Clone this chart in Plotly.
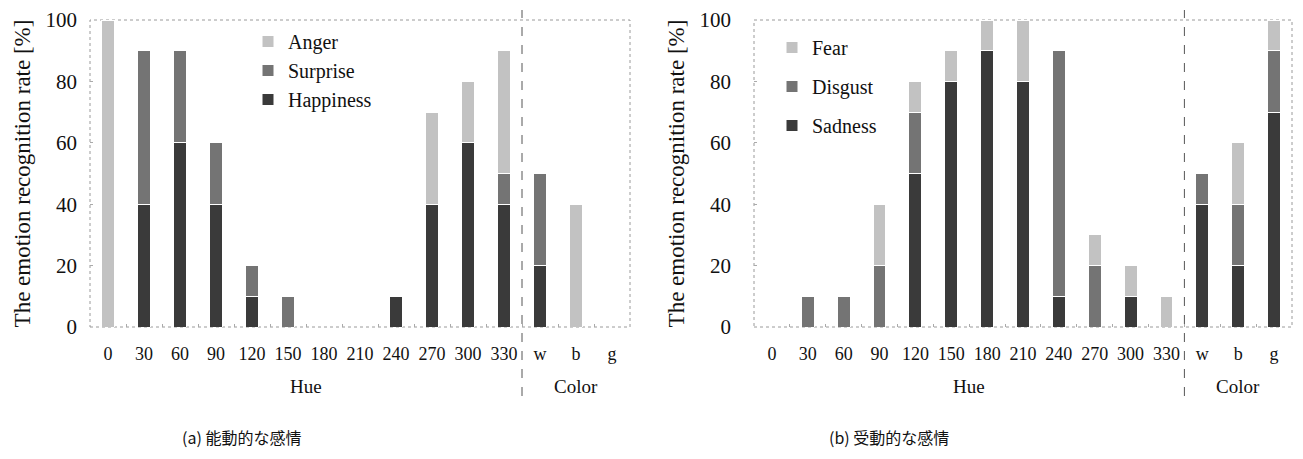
import plotly.graph_objects as go

categories = ["0", "30", "60", "90", "120", "150", "180", "210", "240", "270", "300", "330", "w", "b", "g"]

# (a) active emotions
happiness = [0, 40, 60, 40, 10, 0, 0, 0, 10, 40, 60, 40, 20, 0, 0]
surprise  = [0, 50, 30, 20, 10, 10, 0, 0, 0, 0, 0, 10, 30, 0, 0]
anger     = [100, 0, 0, 0, 0, 0, 0, 0, 0, 30, 20, 40, 0, 40, 0]

# (b) passive emotions
sadness = [0, 0, 0, 0, 50, 80, 90, 80, 10, 0, 10, 0, 40, 20, 70]
disgust = [0, 10, 10, 20, 20, 0, 0, 0, 80, 20, 0, 0, 10, 20, 20]
fear    = [0, 0, 0, 20, 10, 10, 10, 20, 0, 10, 10, 10, 0, 20, 10]

y_ticks = [0, 20, 40, 60, 80, 100]

LIGHT = "#c2c2c2"
MED = "#747474"
DARK = "#3a3a3a"
SERIF = "Liberation Serif"
CJK = "Noto Sans CJK JP"

W, H = 1303, 459

def px_x(p):
    return p / W

def px_y(p):
    return 1 - p / H

fig = go.Figure()

def add(name, vals, color, xa, ya, legend, grp, rank):
    fig.add_trace(go.Bar(
        x=categories, y=vals, name=name, xaxis=xa, yaxis=ya,
        marker=dict(color=color, line=dict(color="white", width=1)),
        legend=legend, legendgroup=grp, legendrank=rank, width=0.36,
    ))

add("Happiness", happiness, DARK, "x", "y", "legend", "a1", 3)
add("Surprise", surprise, MED, "x", "y", "legend", "a2", 2)
add("Anger", anger, LIGHT, "x", "y", "legend", "a3", 1)
add("Sadness", sadness, DARK, "x2", "y2", "legend2", "b1", 3)
add("Disgust", disgust, MED, "x2", "y2", "legend2", "b2", 2)
add("Fear", fear, LIGHT, "x2", "y2", "legend2", "b3", 1)

xdom1 = [px_x(90), px_x(630)]
xdom2 = [px_x(754), px_x(1292)]
ydom = [px_y(327), px_y(20)]

xcommon = dict(type="category", range=[-0.5, 14.5], ticks="inside", ticklen=3,
               tickcolor="#aaaaaa", tickson="boundaries", showline=False,
               showgrid=False, zeroline=False, ticklabelstandoff=14, automargin=False,
               tickangle=0,
               tickfont=dict(family=SERIF, size=18, color="#111"))
ycommon = dict(range=[0, 100], tickvals=y_ticks, ticks="inside", ticklen=3,
               tickcolor="#aaaaaa", showline=False, showgrid=False, zeroline=False,
               automargin=False,
               tickfont=dict(family=SERIF, size=21, color="#111"),
               title=dict(text="The emotion recognition rate [%]", standoff=8,
                          font=dict(family=SERIF, size=23, color="#111")))

fig.update_layout(
    width=W, height=H,
    margin=dict(l=0, r=0, t=0, b=0, autoexpand=False),
    paper_bgcolor="white", plot_bgcolor="white",
    barmode="stack",
    xaxis=dict(domain=xdom1, anchor="y", **xcommon),
    yaxis=dict(domain=ydom, anchor="x", ticklabelstandoff=12, **ycommon),
    xaxis2=dict(domain=xdom2, anchor="y2", **xcommon),
    yaxis2=dict(domain=ydom, anchor="x2", ticklabelstandoff=22, **ycommon),
    legend=dict(x=px_x(248), y=px_y(22), xanchor="left", yanchor="top",
                traceorder="grouped", tracegroupgap=0,
                font=dict(family=SERIF, size=20, color="#111"),
                bgcolor="rgba(0,0,0,0)", itemwidth=30),
    legend2=dict(x=px_x(772), y=px_y(28), xanchor="left", yanchor="top",
                 traceorder="grouped", tracegroupgap=10,
                 font=dict(family=SERIF, size=20, color="#111"),
                 bgcolor="rgba(0,0,0,0)", itemwidth=30),
    showlegend=True,
)

shapes = []
for xr, yr in (("x", "y"), ("x2", "y2")):
    shapes.append(dict(type="rect", xref=f"{xr} domain", yref=f"{yr} domain",
                       x0=0, x1=1, y0=0, y1=1,
                       line=dict(color="#9a9a9a", width=1, dash="dot"), layer="below"))
    shapes.append(dict(type="line", xref=xr, yref="paper", x0=11.5, x1=11.5,
                       y0=px_y(396), y1=px_y(10),
                       line=dict(color="#555555", width=1, dash="dash")))
fig.update_layout(shapes=shapes)

ann = []
for xr in ("x", "x2"):
    ann.append(dict(text="Hue", xref=xr, yref="paper", x=5.5, y=px_y(386),
                    xanchor="center", yanchor="middle",
                    showarrow=False, font=dict(family=SERIF, size=19, color="#111")))
    ann.append(dict(text="Color", xref=xr, yref="paper", x=13, y=px_y(386),
                    xanchor="center", yanchor="middle",
                    showarrow=False, font=dict(family=SERIF, size=19, color="#111")))
ann.append(dict(text="(a) 能動的な感情", xref="paper", yref="paper", x=px_x(241), y=px_y(437),
                xanchor="center", yanchor="middle",
                showarrow=False, font=dict(family=CJK, size=16, color="#111")))
ann.append(dict(text="(b) 受動的な感情", xref="paper", yref="paper", x=px_x(889), y=px_y(437),
                xanchor="center", yanchor="middle",
                showarrow=False, font=dict(family=CJK, size=16, color="#111")))
fig.update_layout(annotations=ann)

fig.write_html("out.html", config={"displayModeBar": False},
               post_script="document.body.style.margin='0';")
